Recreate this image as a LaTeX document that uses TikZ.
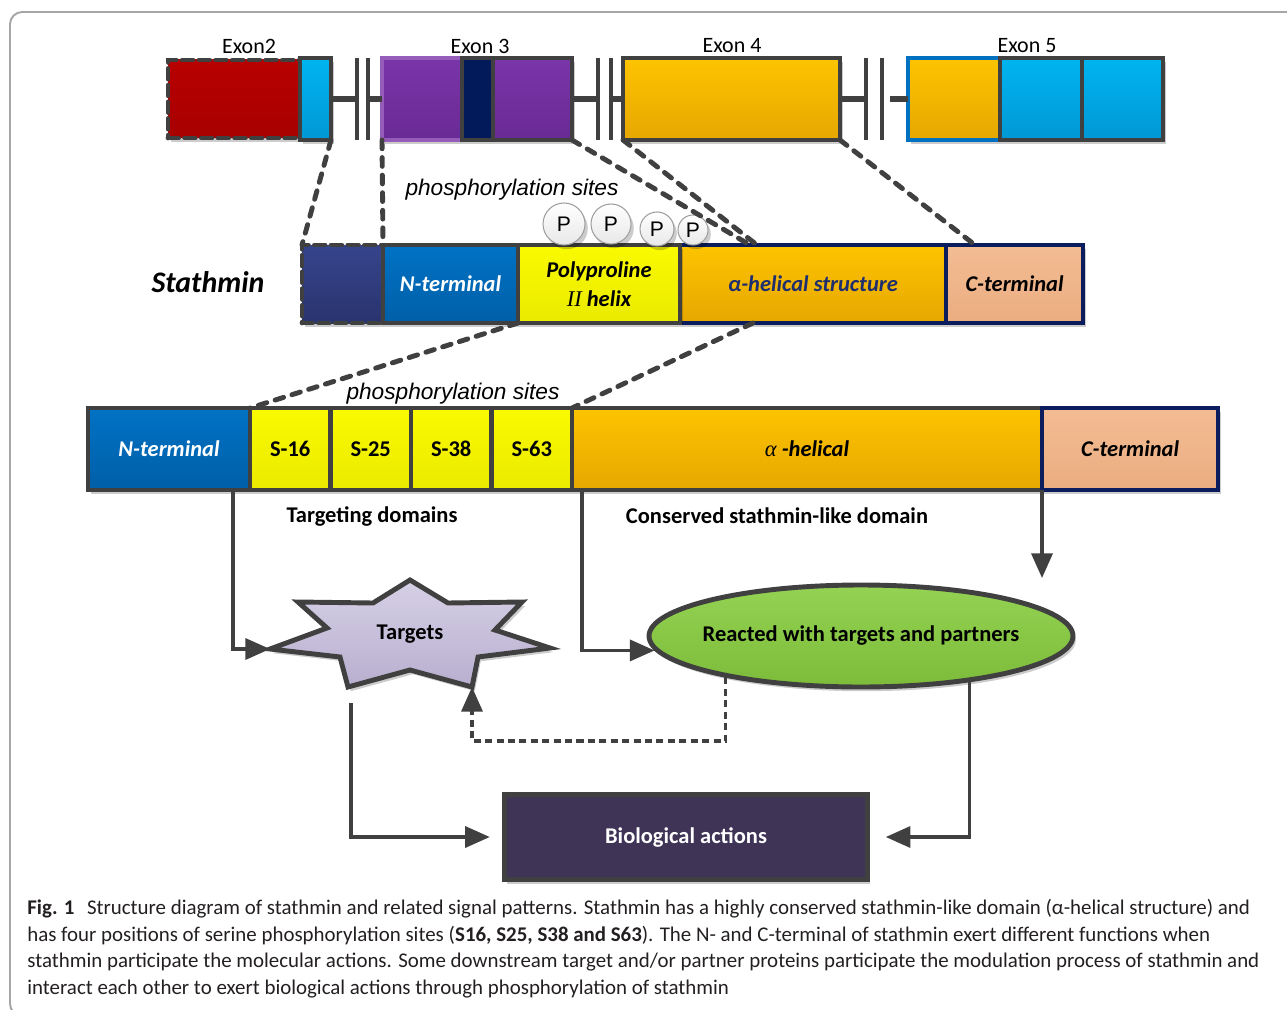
\documentclass[tikz,border=0pt]{standalone}
\usepackage{fontspec}
\setmainfont{Carlito}
\newfontfamily\arialf{Liberation Sans}
\newfontfamily\timesf{Liberation Serif}
\usetikzlibrary{arrows.meta,shapes.geometric,positioning,shadows,calc}

\definecolor{edge}{HTML}{404040}
\definecolor{navyedge}{HTML}{0B1D5C}
\definecolor{navytext}{HTML}{1F2E6E}
\definecolor{exblue}{HTML}{0070C0}
\definecolor{redt}{HTML}{B80000}
\definecolor{redb}{HTML}{A80000}
\definecolor{cyant}{HTML}{00B4F0}
\definecolor{cyanb}{HTML}{0098D4}
\definecolor{purpt}{HTML}{7A35A8}
\definecolor{purpb}{HTML}{692A95}
\definecolor{navyf}{HTML}{031A5A}
\definecolor{oranget}{HTML}{FDC400}
\definecolor{orangeb}{HTML}{E6A700}
\definecolor{bluet}{HTML}{0072C4}
\definecolor{blueb}{HTML}{005FA8}
\definecolor{yelt}{HTML}{FAFA00}
\definecolor{yelb}{HTML}{EAEA00}
\definecolor{peacht}{HTML}{F3BC94}
\definecolor{peachb}{HTML}{EBAD80}
\definecolor{dasht}{HTML}{36448C}
\definecolor{dashb}{HTML}{29346E}
\definecolor{lavt}{HTML}{D6D0E6}
\definecolor{lavb}{HTML}{B8AFCF}
\definecolor{grnt}{HTML}{94D253}
\definecolor{grnb}{HTML}{7DBC3A}
\definecolor{biof}{HTML}{3F3356}
\definecolor{captext}{HTML}{231F20}

\newcommand{\pxu}[1]{#1*0.02cm}

\tikzset{
	boxshadow/.style={drop shadow={shadow xshift=1.6pt, shadow yshift=-2.4pt, opacity=0.2, fill=black}},
	seg/.style={draw=edge, line width=2.8pt, inner sep=0pt, outer sep=0pt, align=center, boxshadow,
		font=\fontsize{12.8}{16.4}\selectfont\bfseries\itshape},
	exbox/.style={seg, minimum height=\pxu{82}},
	srow/.style={seg, minimum height=\pxu{78}},
	brow/.style={seg, minimum height=\pxu{82}},
	redsh/.style={top color=redt, bottom color=redb},
	cyansh/.style={top color=cyant, bottom color=cyanb},
	purpsh/.style={top color=purpt, bottom color=purpb},
	orsh/.style={top color=oranget, bottom color=orangeb},
	bluesh/.style={top color=bluet, bottom color=blueb},
	yelsh/.style={top color=yelt, bottom color=yelb},
	peachsh/.style={top color=peacht, bottom color=peachb},
	dashsh/.style={top color=dasht, bottom color=dashb},
	brokenedge/.style={dash pattern=on 6pt off 3.5pt, line cap=round},
	exlbl/.style={font=\fontsize{12.5}{14}\selectfont},
	phlbl/.style={font=\arialf\itshape\fontsize{12.9}{14}\selectfont},
	dlbl/.style={font=\fontsize{12.8}{14}\selectfont\bfseries},
	pcirc/.style={circle, draw=gray!75, line width=0.6pt, inner sep=0pt, top color=white, bottom color=gray!18,
		boxshadow, font=\arialf\fontsize{12}{12}\selectfont},
	flow/.style={draw=edge, line width=1.8pt, -{Triangle[length=14pt,width=12pt]}},
	fback/.style={flow, dash pattern=on 4pt off 2.5pt},
	cut/.style={draw=edge, line width=2.8pt, dash pattern=on 5pt off 5pt, line cap=round},
	brk/.style={draw=edge, line width=2.4pt},
	intron/.style={draw=edge, line width=3pt},
	starsh/.style={draw=edge, line width=2.8pt, top color=lavt, bottom color=lavb, boxshadow, line join=miter},
	ellsh/.style={ellipse, draw=edge, line width=2.8pt, top color=grnt, bottom color=grnb, boxshadow,
		inner xsep=-10pt, inner ysep=0pt, font=\fontsize{12.8}{14}\selectfont\bfseries},
	biosh/.style={draw=edge, line width=2.8pt, fill=biof, text=white, boxshadow, inner sep=0pt,
		font=\fontsize{12.8}{14}\selectfont\bfseries},
	capsty/.style={font=\fontsize{11.9}{15.1}\selectfont, text=captext, inner sep=0pt, align=left},
	framec/.style={draw=gray!70, line width=1.1pt, rounded corners=7pt}
}

\begin{document}
\begin{tikzpicture}[x=0.02cm,y=-0.02cm]
	\useasboundingbox (0,0) rectangle (1287,1010);
	\draw[framec] (1295,12) -- (10,12) -- (10,1016) -- (60,1016);

	\node[exbox, redsh, brokenedge, minimum width=\pxu{132}, minimum height=\pxu{78}] (e2a) at (234,99) {};
	\node[exbox, cyansh, minimum width=\pxu{31}, anchor=west] (e2b) at (300,99) {};
	\node[exbox, purpsh, draw=purpt!80!white, minimum width=\pxu{80}, anchor=west] (e3a) at (382,99) {};
	\node[exbox, fill=navyf, minimum width=\pxu{31}, anchor=west] (e3b) at (e3a.east) {};
	\node[exbox, purpsh, minimum width=\pxu{79}, anchor=west] (e3c) at (e3b.east) {};
	\node[exbox, orsh, minimum width=\pxu{217}, anchor=west] (e4) at (623,99) {};
	\node[exbox, orsh, draw=exblue, minimum width=\pxu{92}, anchor=west] (e5a) at (908,99) {};
	\node[exbox, cyansh, minimum width=\pxu{82}, anchor=west] (e5b) at (e5a.east) {};
	\node[exbox, cyansh, minimum width=\pxu{81}, anchor=west] (e5c) at (e5b.east) {};
	\foreach \nm/\x/\t in {l2/249/Exon2, l3/480/Exon 3, l4/732/Exon 4, l5/1027/Exon 5}
		\node[exlbl] (\nm) at (\x,46) {\t};
	\foreach \nm/\x in {b1/357, b2/368, b3/598, b4/611, b5/866, b6/882}
	{
		\coordinate (\nm) at (\x,99);
		\draw[brk] ($(\nm)+(0,-41)$) -- ($(\nm)+(0,41)$);
	}
	\draw[intron] (e2b.east) -- (b1) (b2) -- (e3a.west) (e3c.east) -- (b3) (b4) -- (e4.west) (e4.east) -- (b5);
	\draw[intron] ($(b6)+(8,0)$) -- (e5a.west);

	\node[font=\fontsize{17}{20}\selectfont\bfseries\itshape] (stlbl) at (208,282) {Stathmin};
	\node[srow, dashsh, brokenedge, minimum width=\pxu{81}, anchor=west] (sdash) at (302,284) {};
	\node[srow, bluesh, text=white, minimum width=\pxu{135}, anchor=west] (snt) at (sdash.east) {N-terminal};
	\node[srow, orsh, draw=navyedge, text=navytext, minimum width=\pxu{266}, anchor=west] (sah) at (680,284) {α-helical structure};
	\node[srow, yelsh, minimum width=\pxu{162}, anchor=west] (spp) at (snt.east) {Polyproline\\{\timesf\itshape\mdseries II} helix};
	\node[srow, peachsh, draw=navyedge, minimum width=\pxu{137}, anchor=west] (sct) at (sah.east) {C-terminal};
	\node[phlbl] (ph1) at (512,190) {phosphorylation sites};
	\foreach \nm/\x/\y/\r in {p1/564/224/21, p2/611/224/20, p3/657/229/17, p4/693/230/15}
		\node[pcirc, minimum size=\pxu{2*\r}] (\nm) at (\x,\y) {P};

	\draw[cut] (e2b.south east) -- (sdash.north west);
	\draw[cut] (e3a.south west) -- (sdash.north east);
	\draw[cut] (e3c.south east) -- ($(sah.north west)+(70,0)$);
	\draw[cut] (e4.south west) -- ($(sah.north west)+(77,0)$);
	\draw[cut] (e4.south east) -- ($(sct.north west)+(29,0)$);

	\node[brow, bluesh, text=white, minimum width=\pxu{162}, anchor=west] (bnt) at (88,449) {N-terminal};
	\foreach \nm/\t [remember=\nm as \prev (initially bnt)] in {s16/S-16, s25/S-25, s38/S-38, s63/S-63}
		\node[brow, yelsh, font=\fontsize{12.8}{14}\selectfont\bfseries, minimum width=\pxu{80.5}, anchor=west] (\nm) at (\prev.east) {\t};
	\node[brow, orsh, minimum width=\pxu{470}, anchor=west] (bah) at (s63.east) {{\timesf\itshape\mdseries α} -helical};
	\node[brow, peachsh, draw=navyedge, minimum width=\pxu{176}, anchor=west] (bct) at (bah.east) {C-terminal};
	\node[phlbl] (ph2) at (453,394) {phosphorylation sites};
	\draw[cut] (spp.south west) -- (s16.north west);
	\draw[cut] ($(sah.south west)+(73,0)$) -- (s63.north east);

	\node[dlbl] (tdom) at (372,516) {Targeting domains};
	\node[dlbl] (csd) at (777,516) {Conserved stathmin-like domain};

	\foreach \i/\x/\y in {1/410/580, 2/448/603, 3/522/602, 4/495/630, 5/550/648, 6/478/657, 7/472/687,
		8/410/670, 9/348/687, 10/340/657, 11/270/649, 12/327/628, 13/298/602, 14/373/603}
		\coordinate (t\i) at (\x,\y);
	\draw[starsh] (t1) \foreach \i in {2,...,14} {-- (t\i)} -- cycle;
	\node[dlbl] (tgt) at (410,634) {Targets};
	\node[ellsh, minimum width=\pxu{424}, minimum height=\pxu{102}] (ell) at (861,636) {Reacted with targets and partners};
	\node[biosh, minimum width=\pxu{363}, minimum height=\pxu{85}] (bio) at (686,837) {Biological actions};

	\coordinate (ntout) at ($(bnt.south east)+(-17,0)$);
	\coordinate (ahout) at ($(bah.south west)+(10,0)$);
	\coordinate (ctend) at ($(bct.south west)+(0,88)$);
	\coordinate (tout) at ($(t9)+(3,16)$);
	\coordinate (fbturn) at (600,741);
	\draw[flow] (ntout) |- (t11);
	\draw[flow] (ahout) |- (ell.184);
	\draw[flow] (bct.south west) -- (ctend);
	\draw[fback] (ell.197) |- (fbturn) -| (t7);
	\draw[flow, shorten >=7pt] (tout) |- (bio.west);
	\draw[flow, shorten >=9pt] (ell.337) |- (bio.east);

	\node[capsty, anchor=north west] (cap) at (27,899) {\textbf{Fig. 1}\hspace{0.6em}Structure diagram of stathmin and related signal patterns. Stathmin has a highly conserved stathmin-like domain (α-helical structure) and\\
		has four positions of serine phosphorylation sites (\textbf{S16, S25, S38 and S63}). The N- and C-terminal of stathmin exert different functions when\\
		stathmin participate the molecular actions. Some downstream target and/or partner proteins participate the modulation process of stathmin and\\
		interact each other to exert biological actions through phosphorylation of stathmin};
\end{tikzpicture}
\end{document}
